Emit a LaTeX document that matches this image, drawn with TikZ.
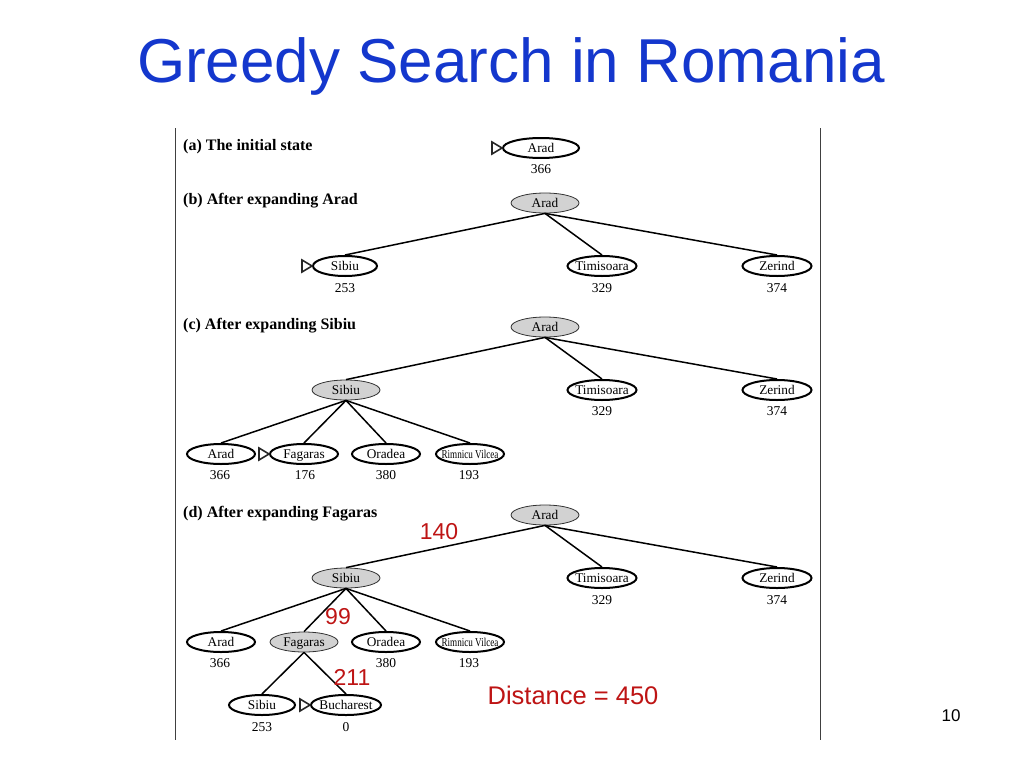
\documentclass[tikz,border=0pt]{standalone}
\usepackage{fontspec}
\usepackage{graphicx}
\setmainfont{Liberation Serif}
\newfontfamily\arialfont{Liberation Sans}
\usetikzlibrary{shapes.geometric}
\definecolor{titleblue}{RGB}{20,55,205}
\definecolor{distred}{RGB}{190,20,20}
\definecolor{nodegray}{RGB}{210,210,210}
\tikzset{
  open/.style={ellipse, draw, line width=2pt, fill=white, minimum width=68pt, minimum height=20pt, inner sep=0pt, font=\fontsize{13.3}{13.3}\selectfont},
  done/.style={ellipse, draw=black!80, line width=0.8pt, fill=nodegray, minimum width=68pt, minimum height=20pt, inner sep=0pt, font=\fontsize{13.3}{13.3}\selectfont},
  hval/.style={font=\fontsize{13.5}{13.5}\selectfont, inner sep=0pt},
  head/.style={font=\bfseries\fontsize{16}{16}\selectfont, anchor=west, inner sep=0pt},
  edge/.style={line width=1.5pt},
  redlab/.style={font=\arialfont\fontsize{23}{23}\selectfont, text=distred, inner sep=0pt},
  marker/.style={line width=1.6pt, line join=miter, fill=white, draw=black!85}
}
\newcommand{\lb}[1]{\makebox[0pt]{\raisebox{-0.33em}[0pt][0pt]{#1}}}
\newcommand{\mymark}[1]{\draw[marker] (#1.west) -- ++(-10pt,6pt) -- ++(0,-12pt) -- cycle;}
\newcommand{\rv}{{\fontsize{12}{12}\selectfont\scalebox{0.76}[1]{Rimnicu Vilcea}}}
\begin{document}
\begin{tikzpicture}[x=1pt,y=-1pt]
\useasboundingbox (0,0) rectangle (1024,768);
\fill[white] (0,0) rectangle (1024,768);
% title
\node[font=\arialfont\fontsize{62}{62}\selectfont, text=titleblue, inner sep=0pt] (title) at (511,66) {Greedy Search in Romania};
% frame lines
\coordinate (lt) at (175.5,128); \coordinate (lb) at (175.5,740);
\coordinate (rt) at (820.5,128); \coordinate (rb) at (820.5,740);
\draw[line width=1pt, black!75] (lt) -- (lb);
\draw[line width=1pt, black!75] (rt) -- (rb);
% (a)
\node[head] (ha) at (183,147) {(a) The initial state};
\node[open, minimum width=76pt] (a1) at (541,148) {\lb{Arad}};
\node[hval] (a1h) at (541,169) {366};
\mymark{a1}
% (b)
\node[head] (hb) at (183,201) {(b) After expanding Arad};
\node[done] (b0) at (545,203) {\lb{Arad}};
\node[open, minimum width=64pt] (b1) at (345,266) {\lb{Sibiu}};
\node[open, minimum width=69pt] (b2) at (602,266) {\lb{Timisoara}};
\node[open, minimum width=69pt] (b3) at (777,266) {\lb{Zerind}};
\node[hval] (b1h) at (345,288) {253};
\node[hval] (b2h) at (602,288) {329};
\node[hval] (b3h) at (777,288) {374};
\mymark{b1}
\foreach \c in {b1,b2,b3} \draw[edge] (b0.south) -- (\c.north);
% (c)
\node[head] (hc) at (183,326) {(c) After expanding Sibiu};
\node[done] (c0) at (545,327) {\lb{Arad}};
\node[done] (c1) at (346,390) {\lb{Sibiu}};
\node[open, minimum width=69pt] (c2) at (602,390) {\lb{Timisoara}};
\node[open, minimum width=69pt] (c3) at (777,390) {\lb{Zerind}};
\node[hval] (c2h) at (602,411) {329};
\node[hval] (c3h) at (777,411) {374};
\node[open] (c11) at (221,454) {\lb{Arad}};
\node[open] (c12) at (304,454) {\lb{Fagaras}};
\node[open] (c13) at (386,454) {\lb{Oradea}};
\node[open] (c14) at (470,454) {\lb{\rv}};
\node[hval] (c11h) at (220,475) {366};
\node[hval] (c12h) at (305,475) {176};
\node[hval] (c13h) at (386,475) {380};
\node[hval] (c14h) at (469,475) {193};
\mymark{c12}
\foreach \c in {c1,c2,c3} \draw[edge] (c0.south) -- (\c.north);
\foreach \c in {c11,c12,c13,c14} \draw[edge] (c1.south) -- (\c.north);
% (d)
\node[head] (hd) at (183,514) {(d) After expanding Fagaras};
\node[done] (d0) at (545,515) {\lb{Arad}};
\node[done] (d1) at (346,578) {\lb{Sibiu}};
\node[open, minimum width=69pt] (d2) at (602,578) {\lb{Timisoara}};
\node[open, minimum width=69pt] (d3) at (777,578) {\lb{Zerind}};
\node[hval] (d2h) at (602,600) {329};
\node[hval] (d3h) at (777,600) {374};
\node[open] (d11) at (221,642) {\lb{Arad}};
\node[done] (d12) at (304,642) {\lb{Fagaras}};
\node[open] (d13) at (386,642) {\lb{Oradea}};
\node[open] (d14) at (470,642) {\lb{\rv}};
\node[hval] (d11h) at (220,663) {366};
\node[hval] (d13h) at (386,663) {380};
\node[hval] (d14h) at (469,663) {193};
\node[open, minimum width=66pt] (d121) at (262,705) {\lb{Sibiu}};
\node[open, minimum width=70pt] (d122) at (346,705) {\lb{Bucharest}};
\node[hval] (d121h) at (262,727) {253};
\node[hval] (d122h) at (346,727) {0};
\mymark{d122}
\foreach \c in {d1,d2,d3} \draw[edge] (d0.south) -- (\c.north);
\foreach \c in {d11,d12,d13,d14} \draw[edge] (d1.south) -- (\c.north);
\foreach \c in {d121,d122} \draw[edge] (d12.south) -- (\c.north);
% red labels
\node[redlab] (l140) at (439,532) {140};
\node[redlab] (l99) at (338,617) {99};
\node[redlab] (l211) at (352,677) {211};
\node[redlab, font=\arialfont\fontsize{25.5}{25.5}\selectfont] (dist) at (573,695) {Distance = 450};
% page number
\node[font=\arialfont\fontsize{17}{17}\selectfont, inner sep=0pt] (pg) at (951,716) {10};
\end{tikzpicture}
\end{document}
